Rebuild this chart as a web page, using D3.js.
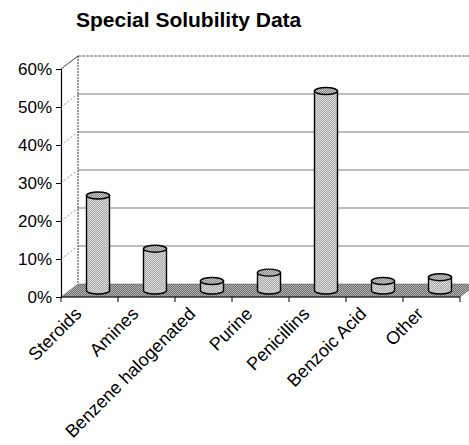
<!DOCTYPE html>
<html>
<head>
<meta charset="utf-8">
<script src="https://cdn.jsdelivr.net/npm/d3@7/dist/d3.min.js"></script>
<style>
  html, body { margin: 0; padding: 0; background: #fff; }
  svg { display: block; }
  text { font-family: "Liberation Sans", Arial, sans-serif; fill: #000; }
</style>
</head>
<body>
<div id="chart"></div>
<script>
// Share of compounds per class (fraction of total)
const categories = ["Steroids", "Amines", "Benzene halogenated", "Purine", "Penicillins", "Benzoic Acid", "Other"];
const values = [0.25, 0.11, 0.025, 0.047, 0.525, 0.025, 0.035];
const yTicks = [0, 0.1, 0.2, 0.3, 0.4, 0.5, 0.6];

const W = 469, H = 445;
const svg = d3.select("#chart").append("svg").attr("width", W).attr("height", H);

// Front plane of the 3-D box, plus the depth offset to the back wall
const x = d3.scaleBand().domain(categories).range([61, 460]).paddingInner(0).paddingOuter(0);
const y = d3.scaleLinear().domain([0, 0.6]).range([297, 69]);
const dx = 17, dy = -13;

// Halftone-like fills
const defs = svg.append("defs");
function checker(id, a, b) {
  const p = defs.append("pattern").attr("id", id).attr("width", 2).attr("height", 2)
    .attr("patternUnits", "userSpaceOnUse");
  p.append("rect").attr("width", 2).attr("height", 2).attr("fill", a);
  p.append("rect").attr("width", 1).attr("height", 1).attr("fill", b);
  p.append("rect").attr("x", 1).attr("y", 1).attr("width", 1).attr("height", 1).attr("fill", b);
}
checker("floorFill", "#6e6e6e", "#b4b4b4");
checker("bodyFill", "#a8a8a8", "#dedede");
checker("topFill", "#8a8a8a", "#c8c8c8");

const x0 = x.range()[0], x1 = x.range()[1];
const y0 = y(0), yTop = y(0.6);

// Back wall gridlines
svg.append("g").selectAll("line").data(yTicks.filter(d => d > 0 && d < 0.6)).join("line")
  .attr("x1", x0 + dx).attr("x2", x1 + dx)
  .attr("y1", d => y(d) + dy).attr("y2", d => y(d) + dy)
  .attr("stroke", "#7a7a7a").attr("stroke-width", 1);

// Back wall top edge and left edge
svg.append("line").attr("x1", x0 + dx).attr("x2", x1 + dx)
  .attr("y1", yTop + dy).attr("y2", yTop + dy)
  .attr("stroke", "#555").attr("stroke-width", 1).attr("stroke-dasharray", "3,1");
svg.append("line").attr("x1", x0 + dx).attr("x2", x0 + dx)
  .attr("y1", yTop + dy).attr("y2", y0 + dy)
  .attr("stroke", "#333").attr("stroke-width", 1).attr("stroke-dasharray", "2,1");

// Side wall diagonals
svg.append("g").selectAll("line").data(yTicks.filter(d => d > 0 && d < 0.6)).join("line")
  .attr("x1", x0).attr("x2", x0 + dx)
  .attr("y1", d => y(d)).attr("y2", d => y(d) + dy)
  .attr("stroke", "#999").attr("stroke-width", 1).attr("stroke-dasharray", "2,2");
svg.append("line").attr("x1", x0).attr("x2", x0 + dx)
  .attr("y1", yTop).attr("y2", yTop + dy)
  .attr("stroke", "#444").attr("stroke-width", 1);

// Floor
svg.append("path")
  .attr("d", `M${x0},${y0}L${x1},${y0}L${x1 + dx},${y0 + dy}L${x0 + dx},${y0 + dy}Z`)
  .attr("fill", "url(#floorFill)").attr("stroke", "#555").attr("stroke-width", 0.5);

// Cylinders, standing mid-depth
const rx = 11.5, ry = 3.5;
const g = svg.append("g");
categories.forEach((c, i) => {
  const cx = x(c) + x.bandwidth() / 2 + dx / 2;
  const yb = y(0) + dy / 2;
  const yt = y(values[i]) + dy / 2;
  g.append("path")
    .attr("d", `M${cx - rx},${yt}L${cx - rx},${yb}A${rx},${ry} 0 0 0 ${cx + rx},${yb}L${cx + rx},${yt}Z`)
    .attr("fill", "url(#bodyFill)").attr("stroke", "#000").attr("stroke-width", 1.4);
  g.append("ellipse").attr("cx", cx).attr("cy", yt).attr("rx", rx).attr("ry", ry)
    .attr("fill", "url(#topFill)").attr("stroke", "#000").attr("stroke-width", 1.4);
});

// Y axis
const yAxis = d3.axisLeft(y).tickValues(yTicks).tickFormat(d3.format(".0%")).tickSize(5).tickPadding(4);
const ya = svg.append("g").attr("transform", `translate(${x0},0)`).call(yAxis);
ya.select(".domain").attr("stroke", "#000").attr("stroke-width", 1.2);
ya.selectAll(".tick line").attr("stroke", "#000");
ya.selectAll(".tick text").style("font-size", "17px").attr("fill", "#000")
  .style("font-family", "'Liberation Sans', Arial, sans-serif");

// X axis with ticks on category boundaries
const xa = svg.append("g").attr("transform", `translate(0,${y0})`);
xa.append("line").attr("x1", x0).attr("x2", x1).attr("stroke", "#000").attr("stroke-width", 1.2);
const bounds = categories.map(c => x(c)).concat([x1]);
xa.selectAll("line.tk").data(bounds).join("line").attr("class", "tk")
  .attr("x1", d => d).attr("x2", d => d).attr("y1", 0).attr("y2", 5)
  .attr("stroke", "#000");
xa.selectAll("text").data(categories).join("text")
  .attr("transform", c => `translate(${x(c) + x.bandwidth() / 2 - 7},${18}) rotate(-45)`)
  .attr("text-anchor", "end")
  .style("font-size", "18px")
  .text(c => c);

// Title
svg.append("text").attr("x", 76).attr("y", 27)
  .style("font-size", "21px").style("font-weight", "bold")
  .text("Special Solubility Data");
</script>
</body>
</html>
